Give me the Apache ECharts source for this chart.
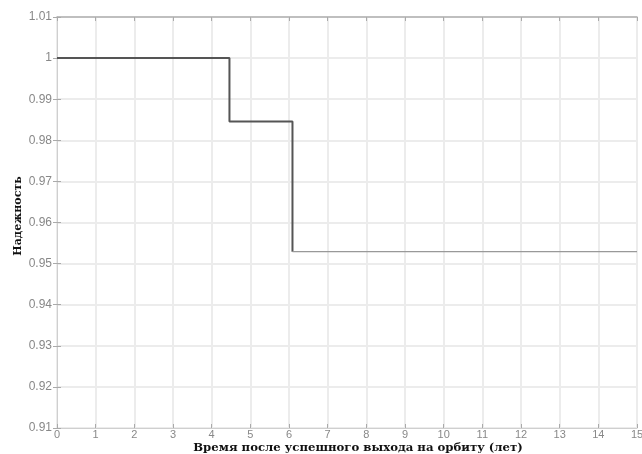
<!DOCTYPE html>
<html><head><meta charset="utf-8">
<script src="https://cdn.jsdelivr.net/npm/echarts@6/dist/echarts.min.js"></script>
<style>html,body{margin:0;padding:0;background:#fff}#c{width:642px;height:454px}</style>
</head><body><div id="c"></div>
<script>
const times = [0, 4.46, 6.09, 15];
const reliability = [1, 0.9846, 0.9529, 0.9529];
const xTicks = [0,1,2,3,4,5,6,7,8,9,10,11,12,13,14,15];
const yTicks = [0.91,0.92,0.93,0.94,0.95,0.96,0.97,0.98,0.99,1,1.01];
const xName = 'Время после успешного выхода на орбиту (лет)';
const yName = 'Надежность';

const pts = times.map((t,i)=>[t, reliability[i]]);
const chart = echarts.init(document.getElementById('c'));
const lblFont = {color:'#888', fontSize:11, fontFamily:'Liberation Sans, Arial'};
chart.setOption({
  animation:false,
  grid:{left:57, right:5, top:17, bottom:26, show:true, borderColor:'#cfcfcf', borderWidth:1, containLabel:false, outerBoundsMode:'none'},
  xAxis:[{
    type:'value', min:xTicks[0], max:xTicks[xTicks.length-1], interval:1,
    axisLine:{show:true, lineStyle:{color:'#cfcfcf'}},
    axisTick:{show:true, inside:true, length:4, lineStyle:{color:'#aaa'}},
    splitLine:{show:true, lineStyle:{color:'#ececec', width:2}},
    axisLabel:Object.assign({margin:1}, lblFont),
    name:xName, nameLocation:'middle', nameGap:14, nameMoveOverlap:false,
    nameTextStyle:{fontFamily:'DejaVu Serif', fontWeight:'bold', fontSize:11.7, color:'#111', padding:[0,0,0,22]}
  },{
    type:'value', position:'top', min:xTicks[0], max:xTicks[xTicks.length-1], interval:1,
    axisLine:{show:true, lineStyle:{color:'#b0b0b0', width:1.5}},
    axisTick:{show:true, inside:true, length:4, lineStyle:{color:'#aaa'}},
    axisLabel:{show:false}, splitLine:{show:false}
  }],
  yAxis:[{
    type:'value', min:yTicks[0], max:yTicks[yTicks.length-1], interval:0.01,
    axisLine:{show:true, lineStyle:{color:'#cfcfcf'}},
    axisTick:{show:true, inside:true, length:4, lineStyle:{color:'#aaa'}},
    splitLine:{show:true, lineStyle:{color:'#ececec', width:2}},
    axisLabel:Object.assign({margin:5, formatter:v=>String(parseFloat(v.toFixed(2)))}, lblFont, {fontSize:12}),
    name:yName, nameLocation:'middle', nameGap:33, nameRotate:90, nameMoveOverlap:false,
    nameTextStyle:{fontFamily:'DejaVu Serif', fontWeight:'bold', fontSize:11, color:'#111', padding:[0,0,0,13]}
  },{
    type:'value', position:'right', min:yTicks[0], max:yTicks[yTicks.length-1], interval:0.01,
    axisLine:{show:true, lineStyle:{color:'#cfcfcf'}},
    axisTick:{show:true, inside:true, length:4, lineStyle:{color:'#aaa'}},
    axisLabel:{show:false}, splitLine:{show:false}
  }],
  series:[{
    type:'line', step:'end', data:pts.slice(0,3), showSymbol:false,
    lineStyle:{color:'#555', width:2}
  },{
    type:'line', data:pts.slice(2), showSymbol:false,
    lineStyle:{color:'#999', width:1.2}
  }]
});
</script></body></html>
